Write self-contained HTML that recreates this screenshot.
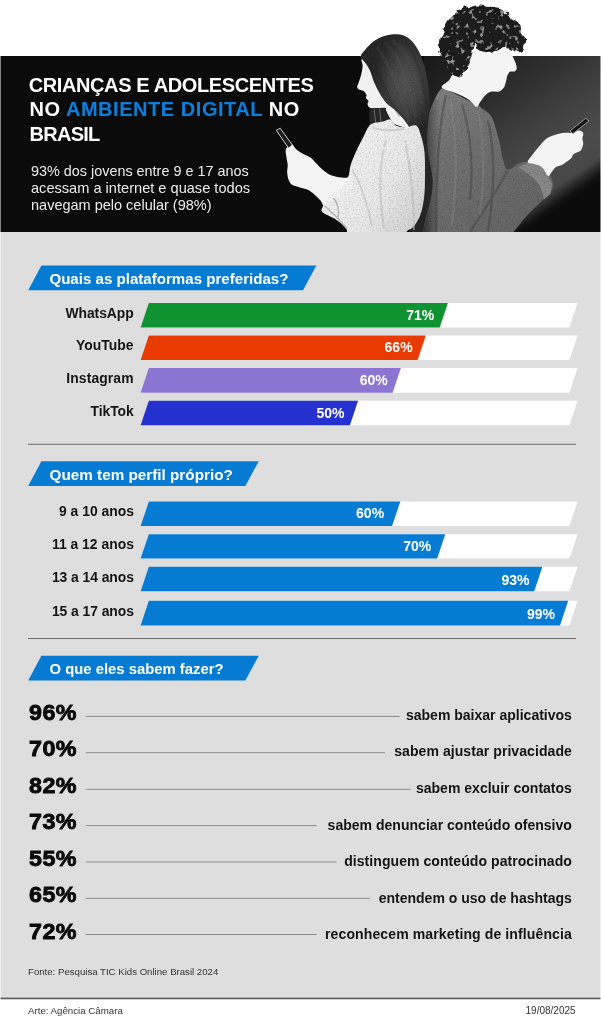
<!DOCTYPE html>
<html lang="pt-BR">
<head>
<meta charset="utf-8">
<title>Crianças e adolescentes no ambiente digital no Brasil</title>
<style>
html,body{margin:0;padding:0;background:#fff;}
body{width:601px;height:1024px;position:relative;overflow:hidden;font-family:"Liberation Sans",sans-serif;}
#bg{position:absolute;left:0;top:0;width:601px;height:1024px;display:block;}
#txt{position:absolute;left:0;top:0;width:601px;height:1024px;will-change:transform;}
.t{position:absolute;line-height:1;white-space:nowrap;margin:0;padding:0;}
</style>
</head>
<body>
<svg id="bg" width="601" height="1024" viewBox="0 0 601 1024">
<rect x="0" y="0" width="601" height="1024" fill="#fff"/>
<rect x="0" y="56" width="601" height="176" fill="#0b0b0b"/>
<rect x="0" y="232" width="601" height="766" fill="#dedede"/>
<rect x="0" y="997.6" width="601" height="1.7" fill="#606060"/>
<defs>
<linearGradient id="bgbeam" gradientUnits="userSpaceOnUse" x1="443.5" y1="47.2" x2="555.4" y2="211.7">
<stop offset="0" stop-color="#191919"/>
<stop offset="0.22" stop-color="#242424"/>
<stop offset="0.42" stop-color="#323232"/>
<stop offset="0.60" stop-color="#414141"/>
<stop offset="0.80" stop-color="#4b4b4b"/>
<stop offset="0.90" stop-color="#474747"/>
<stop offset="0.935" stop-color="#2b2b2b"/>
<stop offset="0.975" stop-color="#111111"/>
<stop offset="1" stop-color="#0b0b0b"/>
</linearGradient>
<linearGradient id="bgfade" gradientUnits="userSpaceOnUse" x1="424" y1="0" x2="500" y2="0">
<stop offset="0" stop-color="#0b0b0b" stop-opacity="0.55"/>
<stop offset="1" stop-color="#0b0b0b" stop-opacity="0"/>
</linearGradient>
<radialGradient id="ghair" gradientUnits="userSpaceOnUse" cx="405" cy="84" r="52" gradientTransform="translate(405 84) scale(0.62 1) translate(-405 -84)">
<stop offset="0" stop-color="#525252"/>
<stop offset="0.45" stop-color="#444444"/>
<stop offset="0.8" stop-color="#2f2f2f"/>
<stop offset="1" stop-color="#262626"/>
</radialGradient>
<linearGradient id="gshirt" gradientUnits="userSpaceOnUse" x1="340" y1="150" x2="425" y2="200">
<stop offset="0" stop-color="#f1f1f1"/>
<stop offset="0.6" stop-color="#e8e8e8"/>
<stop offset="1" stop-color="#d4d4d4"/>
</linearGradient>
<linearGradient id="bjacket" gradientUnits="userSpaceOnUse" x1="430" y1="100" x2="520" y2="230">
<stop offset="0" stop-color="#7c7c7c"/>
<stop offset="0.35" stop-color="#707070"/>
<stop offset="1" stop-color="#646464"/>
</linearGradient>
<linearGradient id="jshadow" gradientUnits="userSpaceOnUse" x1="424" y1="0" x2="440" y2="0">
<stop offset="0" stop-color="#222" stop-opacity="0.75"/>
<stop offset="0.4" stop-color="#2a2a2a" stop-opacity="0.45"/>
<stop offset="1" stop-color="#333" stop-opacity="0"/>
</linearGradient>
<clipPath id="jclip"><path d="M441.3,88.7C438.7,90.5 435.6,97.5 433.6,101.7C431.6,105.9 430.3,109.0 429.3,114.0C428.3,119.0 427.9,126.7 427.6,132.0C427.3,137.3 427.3,141.5 427.6,146.0C427.9,150.5 428.5,154.8 429.2,159.0C429.9,163.2 431.0,167.0 431.6,171.0C432.2,175.0 432.8,179.1 432.8,183.2C432.8,187.3 432.3,191.3 431.6,195.4C430.9,199.5 429.6,203.9 428.5,208.0C427.4,212.1 426.0,216.0 425.2,220.0C424.4,224.0 423.9,227.0 423.5,232.0C423.1,237.0 409.8,247.0 422.5,250.0C435.2,253.0 484.8,253.0 500.0,250.0C515.2,247.0 509.2,237.6 513.6,232.0C518.0,226.4 521.7,221.4 526.4,216.2C531.1,211.0 537.8,204.8 541.9,200.7C546.0,196.6 549.4,194.5 551.2,191.4C553.0,188.3 553.4,185.2 552.9,182.1C552.4,179.0 550.6,175.6 548.3,172.8C545.9,170.0 542.4,166.9 538.8,165.1C535.1,163.3 529.8,162.2 526.4,162.0C523.0,161.8 521.8,162.3 518.7,163.6C515.6,164.9 510.4,170.3 507.8,169.8C505.2,169.3 504.5,164.6 503.2,160.5C501.9,156.4 501.3,150.2 500.1,145.0C498.9,139.8 497.7,134.4 496.1,129.5C494.6,124.6 493.2,119.2 490.8,115.6C488.4,112.0 483.8,109.7 481.5,107.9C479.2,106.1 480.2,106.6 476.9,104.8C473.5,103.0 466.0,99.3 461.4,97.0C456.8,94.7 452.4,92.2 449.0,90.8C445.6,89.4 443.9,86.9 441.3,88.7Z"/></clipPath>
<filter id="curl" x="-10%" y="-10%" width="120%" height="120%">
<feTurbulence type="fractalNoise" baseFrequency="0.16" numOctaves="2" seed="7" result="n"/>
<feDisplacementMap in="SourceGraphic" in2="n" scale="7" xChannelSelector="R" yChannelSelector="G" result="disp"/>
<feTurbulence type="fractalNoise" baseFrequency="0.2" numOctaves="2" seed="4" result="n2"/>
<feColorMatrix in="n2" type="matrix" values="0 0 0 0 0.30  0 0 0 0 0.30  0 0 0 0 0.30  7 0 0 0 -4.2" result="spots"/>
<feComposite in="spots" in2="disp" operator="in" result="spotsIn"/>
<feMerge><feMergeNode in="disp"/><feMergeNode in="spotsIn"/></feMerge>
</filter>
<filter id="grain" x="0" y="0" width="100%" height="100%" color-interpolation-filters="sRGB">
<feTurbulence type="fractalNoise" baseFrequency="0.75" numOctaves="2" seed="3" result="n"/>
<feColorMatrix in="n" type="matrix" values="0 0 0 0 0  0 0 0 0 0  0 0 0 0 0  2.2 0 0 0 -1.1" result="dk"/>
<feColorMatrix in="n" type="matrix" values="0 0 0 0 1  0 0 0 0 1  0 0 0 0 1  -1.6 0 0 0 0.62" result="lt"/>
<feMerge result="g"><feMergeNode in="dk"/><feMergeNode in="lt"/></feMerge>
<feComposite in="g" in2="SourceGraphic" operator="in"/>
</filter>
<clipPath id="figclip"><path d="M441.3,88.7C438.7,90.5 435.6,97.5 433.6,101.7C431.6,105.9 430.3,109.0 429.3,114.0C428.3,119.0 427.9,126.7 427.6,132.0C427.3,137.3 427.3,141.5 427.6,146.0C427.9,150.5 428.5,154.8 429.2,159.0C429.9,163.2 431.0,167.0 431.6,171.0C432.2,175.0 432.8,179.1 432.8,183.2C432.8,187.3 432.3,191.3 431.6,195.4C430.9,199.5 429.6,203.9 428.5,208.0C427.4,212.1 426.0,216.0 425.2,220.0C424.4,224.0 423.9,227.0 423.5,232.0C423.1,237.0 409.8,247.0 422.5,250.0C435.2,253.0 484.8,253.0 500.0,250.0C515.2,247.0 509.2,237.6 513.6,232.0C518.0,226.4 521.7,221.4 526.4,216.2C531.1,211.0 537.8,204.8 541.9,200.7C546.0,196.6 549.4,194.5 551.2,191.4C553.0,188.3 553.4,185.2 552.9,182.1C552.4,179.0 550.6,175.6 548.3,172.8C545.9,170.0 542.4,166.9 538.8,165.1C535.1,163.3 529.8,162.2 526.4,162.0C523.0,161.8 521.8,162.3 518.7,163.6C515.6,164.9 510.4,170.3 507.8,169.8C505.2,169.3 504.5,164.6 503.2,160.5C501.9,156.4 501.3,150.2 500.1,145.0C498.9,139.8 497.7,134.4 496.1,129.5C494.6,124.6 493.2,119.2 490.8,115.6C488.4,112.0 483.8,109.7 481.5,107.9C479.2,106.1 480.2,106.6 476.9,104.8C473.5,103.0 466.0,99.3 461.4,97.0C456.8,94.7 452.4,92.2 449.0,90.8C445.6,89.4 443.9,86.9 441.3,88.7Z"/><path d="M370.4,124.8C367.1,127.4 365.8,132.6 363.4,137.0C361.0,141.4 358.4,146.4 356.3,151.1C354.2,155.8 352.0,160.8 350.6,165.3C349.2,169.8 349.9,173.8 347.8,178.0C345.7,182.2 340.7,188.1 337.9,190.7C335.1,193.3 333.2,191.2 330.8,193.6C328.4,196.0 325.1,201.8 323.7,204.9C322.3,208.0 320.4,209.6 322.3,211.9C324.2,214.2 331.1,216.2 335.1,219.0C339.1,221.8 344.1,225.4 346.4,228.9C348.7,232.4 343.4,237.2 349.0,240.0C354.6,242.8 371.2,246.3 380.0,246.0C388.8,245.7 397.5,240.5 402.0,238.0C406.5,235.5 405.3,232.7 407.2,230.9C409.1,229.1 411.3,229.3 413.3,227.0C415.3,224.7 417.9,220.5 419.4,217.3C420.9,214.1 421.6,211.2 422.4,207.6C423.2,203.9 423.9,199.5 424.3,195.4C424.7,191.3 424.8,189.3 424.9,183.2C425.0,177.1 425.1,164.9 424.9,158.8C424.7,152.7 424.4,150.7 423.7,146.6C423.0,142.5 421.9,137.9 420.6,134.4C419.3,130.9 418.6,126.7 416.0,125.5C413.4,124.3 408.3,127.5 405.0,127.5C401.7,127.5 398.4,126.8 396.0,125.5C393.6,124.2 392.6,120.2 390.5,119.5C388.4,118.8 386.6,120.7 383.2,121.6C379.8,122.5 373.7,122.2 370.4,124.8Z"/><path d="M360.8,56.6C360.6,54.2 362.9,52.5 365.0,50.0C367.1,47.5 370.2,43.9 373.3,41.6C376.4,39.3 380.0,37.5 383.3,36.3C386.6,35.1 389.9,34.4 393.2,34.2C396.5,34.0 400.1,34.2 403.2,35.3C406.2,36.4 409.0,38.3 411.5,40.8C414.0,43.2 416.2,46.5 418.2,50.0C420.1,53.5 421.8,57.5 423.2,61.6C424.6,65.8 425.5,69.9 426.5,74.9C427.5,79.9 428.4,86.6 429.0,91.6C429.6,96.6 429.8,101.3 429.9,104.9C430.0,108.5 429.8,109.9 429.9,113.2C430.0,116.5 430.3,121.2 430.5,124.8C430.7,128.4 430.6,128.9 431.0,134.8C431.4,140.7 432.3,150.8 433.0,160.0C433.7,169.2 435.2,175.8 435.0,190.0C434.8,204.2 436.0,235.8 432.0,245.0C428.0,254.2 414.3,260.8 411.0,245.0C407.7,229.2 412.2,169.0 412.0,150.0C411.8,131.0 410.9,135.5 410.0,131.0C409.1,126.5 408.9,126.5 406.6,123.2C404.4,120.0 399.4,114.4 396.5,111.5C393.6,108.6 391.6,107.6 389.5,105.8C387.4,104.0 386.0,102.8 384.2,100.4C382.4,98.0 380.3,94.7 378.6,91.6C376.9,88.5 375.2,84.9 373.8,81.6C372.4,78.3 371.6,74.5 370.3,71.6C369.1,68.7 367.9,66.7 366.3,64.2C364.7,61.7 361.0,59.0 360.8,56.6Z"/></clipPath>
<clipPath id="bandclip"><rect x="0" y="0" width="601" height="232"/></clipPath>
</defs>
<g clip-path="url(#bandclip)">
<rect x="424" y="56" width="177" height="176" fill="url(#bgbeam)"/>
<path d="M362.6,58.8C360.0,59.3 362.7,63.0 362.6,65.0C362.5,67.0 362.4,69.0 362.0,71.0C361.6,73.0 361.1,75.0 360.5,77.0C359.9,79.0 359.1,81.3 358.5,83.0C357.9,84.7 357.1,85.8 357.2,86.9C357.3,88.0 357.9,88.7 359.0,89.4C360.1,90.1 362.2,90.0 363.5,90.9C364.8,91.8 366.1,93.7 366.5,94.9C366.9,96.1 365.7,96.9 366.0,97.9C366.3,98.9 368.2,99.9 368.5,100.9C368.8,101.9 367.4,102.9 367.5,103.9C367.6,104.9 368.1,106.2 369.0,106.9C369.9,107.7 370.3,108.2 373.0,108.4C375.7,108.6 382.8,107.7 385.0,108.0C387.2,108.3 385.1,108.8 386.0,110.5C386.9,112.2 388.4,116.0 390.2,118.4C392.0,120.8 393.0,123.6 397.0,125.0C401.0,126.4 411.2,131.2 414.0,127.0C416.8,122.8 417.7,108.8 414.0,100.0C410.3,91.2 398.0,80.3 392.0,74.0C386.0,67.7 382.9,64.5 378.0,62.0C373.1,59.5 365.2,58.3 362.6,58.8Z" fill="#f1f1f1"/>
<path d="M369.5,108.2L385.2,107.8L386.2,112.0L389.0,118.5L383.0,121.5L372.0,126.5L369.3,126.0Z" fill="#262626"/>
<path d="M374,109 L376,125 M379.5,108.5 L381,122" stroke="#6a6a6a" stroke-width="1" fill="none"/>
<path d="M360.8,56.6C360.6,54.2 362.9,52.5 365.0,50.0C367.1,47.5 370.2,43.9 373.3,41.6C376.4,39.3 380.0,37.5 383.3,36.3C386.6,35.1 389.9,34.4 393.2,34.2C396.5,34.0 400.1,34.2 403.2,35.3C406.2,36.4 409.0,38.3 411.5,40.8C414.0,43.2 416.2,46.5 418.2,50.0C420.1,53.5 421.8,57.5 423.2,61.6C424.6,65.8 425.5,69.9 426.5,74.9C427.5,79.9 428.4,86.6 429.0,91.6C429.6,96.6 429.8,101.3 429.9,104.9C430.0,108.5 429.8,109.9 429.9,113.2C430.0,116.5 430.3,121.2 430.5,124.8C430.7,128.4 430.6,128.9 431.0,134.8C431.4,140.7 432.3,150.8 433.0,160.0C433.7,169.2 435.2,175.8 435.0,190.0C434.8,204.2 436.0,235.8 432.0,245.0C428.0,254.2 414.3,260.8 411.0,245.0C407.7,229.2 412.2,169.0 412.0,150.0C411.8,131.0 410.9,135.5 410.0,131.0C409.1,126.5 408.9,126.5 406.6,123.2C404.4,120.0 399.4,114.4 396.5,111.5C393.6,108.6 391.6,107.6 389.5,105.8C387.4,104.0 386.0,102.8 384.2,100.4C382.4,98.0 380.3,94.7 378.6,91.6C376.9,88.5 375.2,84.9 373.8,81.6C372.4,78.3 371.6,74.5 370.3,71.6C369.1,68.7 367.9,66.7 366.3,64.2C364.7,61.7 361.0,59.0 360.8,56.6Z" fill="url(#ghair)"/>
<path d="M392,40 C406,50 417,72 422,104 M385,42 C399,56 409,80 416,118 M377,47 C388,62 398,86 409,122" stroke="#565656" stroke-width="3.5" fill="none" opacity="0.2"/>
<path d="M369,52 C377,70 384,92 400,116 M400,37 C414,48 423,74 427,108 M424,120 L422,232" stroke="#222" stroke-width="3" fill="none" opacity="0.25"/>
<path d="M370.4,124.8C367.1,127.4 365.8,132.6 363.4,137.0C361.0,141.4 358.4,146.4 356.3,151.1C354.2,155.8 352.0,160.8 350.6,165.3C349.2,169.8 349.9,173.8 347.8,178.0C345.7,182.2 340.7,188.1 337.9,190.7C335.1,193.3 333.2,191.2 330.8,193.6C328.4,196.0 325.1,201.8 323.7,204.9C322.3,208.0 320.4,209.6 322.3,211.9C324.2,214.2 331.1,216.2 335.1,219.0C339.1,221.8 344.1,225.4 346.4,228.9C348.7,232.4 343.4,237.2 349.0,240.0C354.6,242.8 371.2,246.3 380.0,246.0C388.8,245.7 397.5,240.5 402.0,238.0C406.5,235.5 405.3,232.7 407.2,230.9C409.1,229.1 411.3,229.3 413.3,227.0C415.3,224.7 417.9,220.5 419.4,217.3C420.9,214.1 421.6,211.2 422.4,207.6C423.2,203.9 423.9,199.5 424.3,195.4C424.7,191.3 424.8,189.3 424.9,183.2C425.0,177.1 425.1,164.9 424.9,158.8C424.7,152.7 424.4,150.7 423.7,146.6C423.0,142.5 421.9,137.9 420.6,134.4C419.3,130.9 418.6,126.7 416.0,125.5C413.4,124.3 408.3,127.5 405.0,127.5C401.7,127.5 398.4,126.8 396.0,125.5C393.6,124.2 392.6,120.2 390.5,119.5C388.4,118.8 386.6,120.7 383.2,121.6C379.8,122.5 373.7,122.2 370.4,124.8Z" fill="url(#gshirt)"/>
<path d="M372,127 C380,131 392,131 404,129 M352,170 C360,182 366,198 372,226 M386,140 C380,160 378,190 384,228 M405,140 C410,165 414,200 414,230" stroke="#bcbcbc" stroke-width="2" fill="none" opacity="0.55"/>
<path d="M331,195 C336,200 340,208 338,218 M325,206 C332,212 340,220 347,229" stroke="#aaaaaa" stroke-width="1.4" fill="none" opacity="0.8"/>
<path d="M360,145 C372,150 392,150 408,143" stroke="#f0f0f0" stroke-width="3" fill="none" opacity="0.6"/>
<path d="M285.7,149.9C286.0,148.1 287.4,147.2 288.5,146.3C289.6,145.4 291.2,144.2 292.5,144.7C293.8,145.2 294.5,147.7 296.2,149.2C297.9,150.7 300.5,152.3 302.9,153.7C305.3,155.1 308.1,155.8 310.4,157.4C312.6,159.0 314.4,161.4 316.4,163.4C318.4,165.4 320.1,167.5 322.4,169.4C324.6,171.3 327.4,173.4 329.9,174.7C332.4,175.9 334.6,176.4 337.4,176.9C340.1,177.4 344.1,177.9 346.4,177.7C348.7,177.5 350.1,174.1 351.0,175.5C351.9,176.9 353.8,182.6 352.0,186.0C350.2,189.4 343.5,193.8 340.0,196.0C336.5,198.2 333.6,197.4 331.0,199.0C328.4,200.6 325.9,205.3 324.2,205.6C322.5,205.9 322.4,202.7 320.9,200.9C319.3,199.1 317.1,196.8 314.9,194.9C312.6,193.0 309.9,190.8 307.4,189.6C304.9,188.3 302.4,188.2 299.9,187.4C297.4,186.7 294.4,186.3 292.5,185.1C290.6,183.8 289.6,182.0 288.7,179.9C287.8,177.8 287.4,174.9 287.2,172.4C287.0,169.9 287.8,167.4 287.7,164.9C287.6,162.4 286.8,159.9 286.5,157.4C286.2,154.9 285.4,151.8 285.7,149.9Z" fill="#f3f3f3"/>
<path d="M276.3,130.3L280.2,128.3L292.3,144.9L288.5,148.0Z" fill="#1b1b1b" stroke="#cfcfcf" stroke-width="1"/>
<path d="M441.3,88.7C438.7,90.5 435.6,97.5 433.6,101.7C431.6,105.9 430.3,109.0 429.3,114.0C428.3,119.0 427.9,126.7 427.6,132.0C427.3,137.3 427.3,141.5 427.6,146.0C427.9,150.5 428.5,154.8 429.2,159.0C429.9,163.2 431.0,167.0 431.6,171.0C432.2,175.0 432.8,179.1 432.8,183.2C432.8,187.3 432.3,191.3 431.6,195.4C430.9,199.5 429.6,203.9 428.5,208.0C427.4,212.1 426.0,216.0 425.2,220.0C424.4,224.0 423.9,227.0 423.5,232.0C423.1,237.0 409.8,247.0 422.5,250.0C435.2,253.0 484.8,253.0 500.0,250.0C515.2,247.0 509.2,237.6 513.6,232.0C518.0,226.4 521.7,221.4 526.4,216.2C531.1,211.0 537.8,204.8 541.9,200.7C546.0,196.6 549.4,194.5 551.2,191.4C553.0,188.3 553.4,185.2 552.9,182.1C552.4,179.0 550.6,175.6 548.3,172.8C545.9,170.0 542.4,166.9 538.8,165.1C535.1,163.3 529.8,162.2 526.4,162.0C523.0,161.8 521.8,162.3 518.7,163.6C515.6,164.9 510.4,170.3 507.8,169.8C505.2,169.3 504.5,164.6 503.2,160.5C501.9,156.4 501.3,150.2 500.1,145.0C498.9,139.8 497.7,134.4 496.1,129.5C494.6,124.6 493.2,119.2 490.8,115.6C488.4,112.0 483.8,109.7 481.5,107.9C479.2,106.1 480.2,106.6 476.9,104.8C473.5,103.0 466.0,99.3 461.4,97.0C456.8,94.7 452.4,92.2 449.0,90.8C445.6,89.4 443.9,86.9 441.3,88.7Z" fill="url(#bjacket)"/>
<rect x="420" y="100" width="24" height="134" fill="url(#jshadow)" clip-path="url(#jclip)"/>
<path d="M446,95 C440,120 436,160 436,232 M462,104 C470,130 474,160 470,200 M488,120 C494,150 496,180 488,232 M507,171 C498,190 484,210 470,232" stroke="#3a3a3a" stroke-width="2.4" fill="none" opacity="0.38"/>
<path d="M450,100 C456,130 458,170 452,225 M478,112 C484,140 486,170 480,215 M520,168 C530,172 542,182 548,190" stroke="#8c8c8c" stroke-width="2.4" fill="none" opacity="0.35"/>
<path d="M527.7,163 L533.6,164.1 L542,167.4 L547.9,175.8 L552.1,184 L550.4,194.1 L543.7,199.4 C543,192 540,185 536.1,180.7 C532,176 526,172 518.5,167.2Z" fill="#8c8c8c" opacity="0.85"/>
<path d="M476.2,43.0C476.8,43.5 476.3,47.0 477.2,48.5C478.1,50.0 479.7,51.4 481.7,52.2C483.7,53.0 486.4,53.4 489.1,53.1C491.9,52.8 495.5,51.3 498.2,50.3C500.9,49.3 503.5,47.2 505.5,47.2C507.5,47.2 508.9,48.7 510.1,50.3C511.3,51.9 511.9,54.6 512.8,56.7C513.7,58.8 515.0,61.1 515.6,63.1C516.2,65.1 516.9,67.2 516.7,68.6C516.6,70.0 515.8,70.9 514.7,71.4C513.6,71.9 511.3,71.0 510.1,71.6C508.9,72.2 508.2,73.8 507.6,75.0C507.0,76.2 506.9,77.5 506.6,78.7C506.3,79.9 506.2,80.9 505.7,82.4C505.2,83.9 504.8,86.3 503.7,87.8C502.6,89.3 501.2,90.8 499.1,91.5C497.0,92.2 493.2,91.1 490.9,91.7C488.6,92.3 487.2,93.4 485.4,95.2C483.6,97.0 481.4,100.5 479.9,102.5C478.4,104.5 478.3,107.5 476.5,107.0C474.7,106.5 472.3,102.0 468.9,99.7C465.5,97.4 460.6,95.3 456.1,93.3C451.6,91.3 442.9,89.7 441.7,87.6C440.5,85.5 447.0,82.6 448.8,80.5C450.6,78.4 451.0,76.1 452.5,75.0C454.0,73.9 455.9,74.6 457.9,74.0C459.9,73.4 462.5,73.2 464.3,71.2C466.1,69.2 467.7,64.8 468.9,62.1C470.1,59.4 470.9,57.6 471.7,54.9C472.5,52.2 472.8,47.8 473.5,45.8C474.2,43.8 475.6,42.5 476.2,43.0Z" fill="#f4f4f4"/>
<g filter="url(#curl)"><path d="M452.5,76.0C450.4,74.2 447.1,69.4 445.1,65.9C443.1,62.4 441.7,58.2 440.6,54.9C439.5,51.5 438.6,48.8 438.7,45.8C438.8,42.8 440.4,39.6 441.5,36.6C442.6,33.6 443.6,30.6 445.1,27.5C446.6,24.4 448.2,21.2 450.6,18.3C453.1,15.4 456.4,12.1 459.8,10.1C463.2,8.1 467.2,7.2 470.8,6.4C474.4,5.6 478.1,5.2 481.7,5.5C485.3,5.8 489.3,7.6 492.7,8.2C496.1,8.8 499.4,8.3 501.9,9.2C504.3,10.1 505.6,11.9 507.4,13.7C509.2,15.5 510.7,18.3 512.8,20.1C514.9,21.9 518.8,22.9 520.2,24.7C521.6,26.5 520.4,29.1 521.1,31.1C521.9,33.1 524.1,34.5 524.7,36.6C525.3,38.7 525.3,41.6 524.7,43.9C524.1,46.2 522.8,49.1 521.1,50.3C519.4,51.5 516.4,51.5 514.7,51.2C513.0,50.9 512.5,49.2 511.0,48.5C509.5,47.8 507.6,46.4 505.5,46.7C503.4,47.0 500.9,49.2 498.2,50.3C495.5,51.4 491.9,52.8 489.1,53.1C486.4,53.4 483.7,53.0 481.7,52.2C479.7,51.4 478.1,50.0 477.2,48.5C476.3,47.0 476.8,43.5 476.2,43.0C475.6,42.5 474.2,43.8 473.5,45.8C472.8,47.8 472.5,51.9 471.7,54.9C470.9,57.9 470.1,61.0 468.9,64.1C467.7,67.1 466.1,71.0 464.3,73.2C462.5,75.4 459.9,76.5 457.9,77.0C455.9,77.5 454.6,77.8 452.5,76.0Z" fill="#1d1d1d"/></g>
<path d="M527.7,162.2C527.4,160.8 530.1,158.0 531.9,155.5C533.7,153.0 536.5,149.8 538.7,147.1C541.0,144.4 542.9,141.5 545.4,139.5C547.9,137.5 550.7,136.4 553.8,135.3C556.9,134.2 560.8,133.2 563.9,132.8C567.0,132.4 569.8,133.2 572.3,132.8C574.8,132.4 577.2,130.5 579.0,130.5C580.8,130.5 582.6,131.6 583.2,133.0C583.8,134.4 582.4,136.9 582.4,138.7C582.4,140.5 583.5,141.8 583.2,143.7C582.9,145.6 582.2,148.7 580.7,150.4C579.2,152.1 575.7,152.4 574.0,153.8C572.3,155.2 572.6,157.0 570.6,158.8C568.6,160.6 564.7,163.3 562.2,164.7C559.7,166.1 557.5,165.6 555.5,167.2C553.5,168.8 551.7,172.6 550.4,174.0C549.1,175.4 549.3,176.9 547.9,175.8C546.5,174.7 544.4,169.4 542.0,167.4C539.6,165.4 536.0,165.0 533.6,164.1C531.2,163.2 528.0,163.6 527.7,162.2Z" fill="#f4f4f4"/>
<path d="M569.9,131.0L585.7,118.3L589.0,121.0L573.0,133.6Z" fill="#141414" stroke="#9a9a9a" stroke-width="1"/>
<g clip-path="url(#figclip)" opacity="0.2"><rect x="320" y="30" width="240" height="204" fill="#000" filter="url(#grain)"/></g>
</g>
<polygon points="28.2,290.3 41.4,265.6 316.4,265.6 303.0,290.3" fill="#067bd3" />
<polygon points="28.2,485.9 41.4,461.2 258.8,461.2 245.4,485.9" fill="#067bd3" />
<polygon points="28.2,680.4 41.4,655.7 258.8,655.7 245.4,680.4" fill="#067bd3" />
<polygon points="140.6,327.4 148.8,302.9 577.6,302.9 569.4,327.4" fill="#fff" />
<polygon points="140.6,327.4 148.8,302.9 447.9,302.9 439.7,327.4" fill="#0f9230" />
<polygon points="140.6,360.0 148.8,335.5 577.6,335.5 569.4,360.0" fill="#fff" />
<polygon points="140.6,360.0 148.8,335.5 425.8,335.5 417.6,360.0" fill="#e93a02" />
<polygon points="140.6,392.8 148.8,368.1 577.6,368.1 569.4,392.8" fill="#fff" />
<polygon points="140.6,392.8 148.8,368.1 400.9,368.1 392.7,392.8" fill="#8c74d3" />
<polygon points="140.6,425.3 148.8,400.8 577.6,400.8 569.4,425.3" fill="#fff" />
<polygon points="140.6,425.3 148.8,400.8 358.1,400.8 349.9,425.3" fill="#2632cf" />
<polygon points="140.6,525.9 148.8,501.6 577.6,501.6 569.4,525.9" fill="#fff" />
<polygon points="140.6,525.9 148.8,501.6 400.3,501.6 392.1,525.9" fill="#067bd3" />
<polygon points="140.6,558.5 148.8,534.2 577.6,534.2 569.4,558.5" fill="#fff" />
<polygon points="140.6,558.5 148.8,534.2 445.3,534.2 437.1,558.5" fill="#067bd3" />
<polygon points="140.6,591.2 148.8,566.8 577.6,566.8 569.4,591.2" fill="#fff" />
<polygon points="140.6,591.2 148.8,566.8 542.4,566.8 534.2,591.2" fill="#067bd3" />
<polygon points="140.6,625.5 148.8,600.8 577.6,600.8 569.4,625.5" fill="#fff" />
<polygon points="140.6,625.5 148.8,600.8 568.2,600.8 560.0,625.5" fill="#067bd3" />
<rect x="28" y="443.8" width="548" height="1" fill="#6b6b6b"/>
<rect x="28" y="638" width="548" height="1" fill="#6b6b6b"/>
<rect x="85.7" y="715.9" width="313.8" height="1" fill="#8a8a8a"/>
<rect x="85.7" y="752.2" width="299.3" height="1" fill="#8a8a8a"/>
<rect x="85.7" y="788.8" width="324.8" height="1" fill="#8a8a8a"/>
<rect x="85.7" y="825.1" width="230.8" height="1" fill="#8a8a8a"/>
<rect x="85.7" y="861.5" width="250.9" height="1" fill="#8a8a8a"/>
<rect x="85.7" y="897.8" width="284.4" height="1" fill="#8a8a8a"/>
<rect x="85.7" y="934.0" width="230.8" height="1" fill="#8a8a8a"/>
<rect id="edgecolL" x="0" y="0" width="1" height="1024" fill="#fff" opacity="0.5"/>
<rect id="edgecolR" x="600" y="0" width="1" height="1024" fill="#fff" opacity="0.5"/>
</svg>
<div id="txt">
<div class="t" style="top:75px;font-size:20px;color:#fff;font-weight:bold;letter-spacing:-0.39px;left:28.70px;">CRIANÇAS E ADOLESCENTES</div>
<div class="t" style="top:99px;font-size:20px;color:#fff;font-weight:bold;letter-spacing:0.54px;left:29.50px;">NO <span style="color:#0a80dc">AMBIENTE DIGITAL</span> NO</div>
<div class="t" style="top:124px;font-size:20px;color:#fff;font-weight:bold;letter-spacing:-0.73px;left:29.50px;">BRASIL</div>
<div class="t" style="top:164px;font-size:14.4px;color:#ececec;left:31.00px;">93% dos jovens entre 9 e 17 anos</div>
<div class="t" style="top:181px;font-size:14.6px;color:#ececec;left:31.00px;">acessam a internet e quase todos</div>
<div class="t" style="top:198px;font-size:14.5px;color:#ececec;left:31.00px;">navegam pelo celular (98%)</div>
<div class="t" style="top:271px;font-size:15.1px;color:#fff;font-weight:bold;left:49.40px;">Quais as plataformas preferidas?</div>
<div class="t" style="top:467px;font-size:15.27px;color:#fff;font-weight:bold;left:49.60px;">Quem tem perfil próprio?</div>
<div class="t" style="top:662px;font-size:14.83px;color:#fff;font-weight:bold;left:49.60px;">O que eles sabem fazer?</div>
<div class="t" style="top:307px;font-size:13.9px;color:#141414;font-weight:bold;letter-spacing:-0.065px;right:467.40px;text-align:right;">WhatsApp</div>
<div class="t" style="top:339px;font-size:13.9px;color:#141414;font-weight:bold;letter-spacing:0.044px;right:467.40px;text-align:right;">YouTube</div>
<div class="t" style="top:372px;font-size:13.9px;color:#141414;font-weight:bold;letter-spacing:0.108px;right:467.40px;text-align:right;">Instagram</div>
<div class="t" style="top:405px;font-size:13.9px;color:#141414;font-weight:bold;letter-spacing:-0.069px;right:467.40px;text-align:right;">TikTok</div>
<div class="t" style="top:505px;font-size:13.9px;color:#141414;font-weight:bold;letter-spacing:-0.005px;right:467.10px;text-align:right;">9 a 10 anos</div>
<div class="t" style="top:538px;font-size:13.9px;color:#141414;font-weight:bold;letter-spacing:0.007px;right:467.10px;text-align:right;">11 a 12 anos</div>
<div class="t" style="top:571px;font-size:13.9px;color:#141414;font-weight:bold;letter-spacing:-0.057px;right:467.10px;text-align:right;">13 a 14 anos</div>
<div class="t" style="top:605px;font-size:13.9px;color:#141414;font-weight:bold;letter-spacing:-0.057px;right:467.10px;text-align:right;">15 a 17 anos</div>
<div class="t" style="top:308px;font-size:14px;color:#fff;font-weight:bold;right:166.70px;text-align:right;">71%</div>
<div class="t" style="top:340px;font-size:14px;color:#fff;font-weight:bold;right:188.40px;text-align:right;">66%</div>
<div class="t" style="top:373px;font-size:14px;color:#fff;font-weight:bold;right:213.30px;text-align:right;">60%</div>
<div class="t" style="top:406px;font-size:14px;color:#fff;font-weight:bold;right:256.60px;text-align:right;">50%</div>
<div class="t" style="top:506px;font-size:14px;color:#fff;font-weight:bold;right:216.90px;text-align:right;">60%</div>
<div class="t" style="top:539px;font-size:14px;color:#fff;font-weight:bold;right:169.80px;text-align:right;">70%</div>
<div class="t" style="top:573px;font-size:14px;color:#fff;font-weight:bold;right:71.60px;text-align:right;">93%</div>
<div class="t" style="top:607px;font-size:14px;color:#fff;font-weight:bold;right:46.10px;text-align:right;">99%</div>
<div class="t" style="top:701px;font-size:21.2px;color:#0a0a0a;font-weight:bold;left:29.30px;transform:translateY(0.60px) scaleX(1.1);transform-origin:0 0;-webkit-text-stroke:0.8px #0a0a0a;letter-spacing:0.4px;">96%</div>
<div class="t" style="top:708px;font-size:14.05px;color:#141414;font-weight:bold;letter-spacing:-0.014px;right:29.10px;text-align:right;">sabem baixar aplicativos</div>
<div class="t" style="top:738px;font-size:21.2px;color:#0a0a0a;font-weight:bold;left:29.30px;transform:translateY(0.10px) scaleX(1.1);transform-origin:0 0;-webkit-text-stroke:0.8px #0a0a0a;letter-spacing:0.4px;">70%</div>
<div class="t" style="top:744px;font-size:14.05px;color:#141414;font-weight:bold;letter-spacing:0.052px;right:29.10px;text-align:right;">sabem ajustar privacidade</div>
<div class="t" style="top:774px;font-size:21.2px;color:#0a0a0a;font-weight:bold;left:29.30px;transform:translateY(0.60px) scaleX(1.1);transform-origin:0 0;-webkit-text-stroke:0.8px #0a0a0a;letter-spacing:0.4px;">82%</div>
<div class="t" style="top:781px;font-size:14.05px;color:#141414;font-weight:bold;letter-spacing:-0.008px;right:29.10px;text-align:right;">sabem excluir contatos</div>
<div class="t" style="top:811px;font-size:21.2px;color:#0a0a0a;font-weight:bold;left:29.30px;transform:translateY(0.20px) scaleX(1.1);transform-origin:0 0;-webkit-text-stroke:0.8px #0a0a0a;letter-spacing:0.4px;">73%</div>
<div class="t" style="top:818px;font-size:14.05px;color:#141414;font-weight:bold;letter-spacing:0.001px;right:29.10px;text-align:right;">sabem denunciar conteúdo ofensivo</div>
<div class="t" style="top:847px;font-size:21.2px;color:#0a0a0a;font-weight:bold;left:29.30px;transform:translateY(0.80px) scaleX(1.1);transform-origin:0 0;-webkit-text-stroke:0.8px #0a0a0a;letter-spacing:0.4px;">55%</div>
<div class="t" style="top:854px;font-size:14.05px;color:#141414;font-weight:bold;letter-spacing:0.046px;right:29.10px;text-align:right;">distinguem conteúdo patrocinado</div>
<div class="t" style="top:884px;font-size:21.2px;color:#0a0a0a;font-weight:bold;left:29.30px;transform:translateY(0.20px) scaleX(1.1);transform-origin:0 0;-webkit-text-stroke:0.8px #0a0a0a;letter-spacing:0.4px;">65%</div>
<div class="t" style="top:891px;font-size:14.05px;color:#141414;font-weight:bold;letter-spacing:-0.012px;right:29.10px;text-align:right;">entendem o uso de hashtags</div>
<div class="t" style="top:920px;font-size:21.2px;color:#0a0a0a;font-weight:bold;left:29.30px;transform:translateY(0.80px) scaleX(1.1);transform-origin:0 0;-webkit-text-stroke:0.8px #0a0a0a;letter-spacing:0.4px;">72%</div>
<div class="t" style="top:927px;font-size:14.05px;color:#141414;font-weight:bold;letter-spacing:0.097px;right:29.10px;text-align:right;">reconhecem marketing de influência</div>
<div class="t" style="top:967px;font-size:9.65px;color:#333;left:28.00px;">Fonte: Pesquisa TIC Kids Online Brasil 2024</div>
<div class="t" style="top:1006px;font-size:9.7px;color:#333;left:28.00px;">Arte: Agência Câmara</div>
<div class="t" style="top:1006px;font-size:10px;color:#333;right:25.40px;text-align:right;">19/08/2025</div>
</div>
</body>
</html>
